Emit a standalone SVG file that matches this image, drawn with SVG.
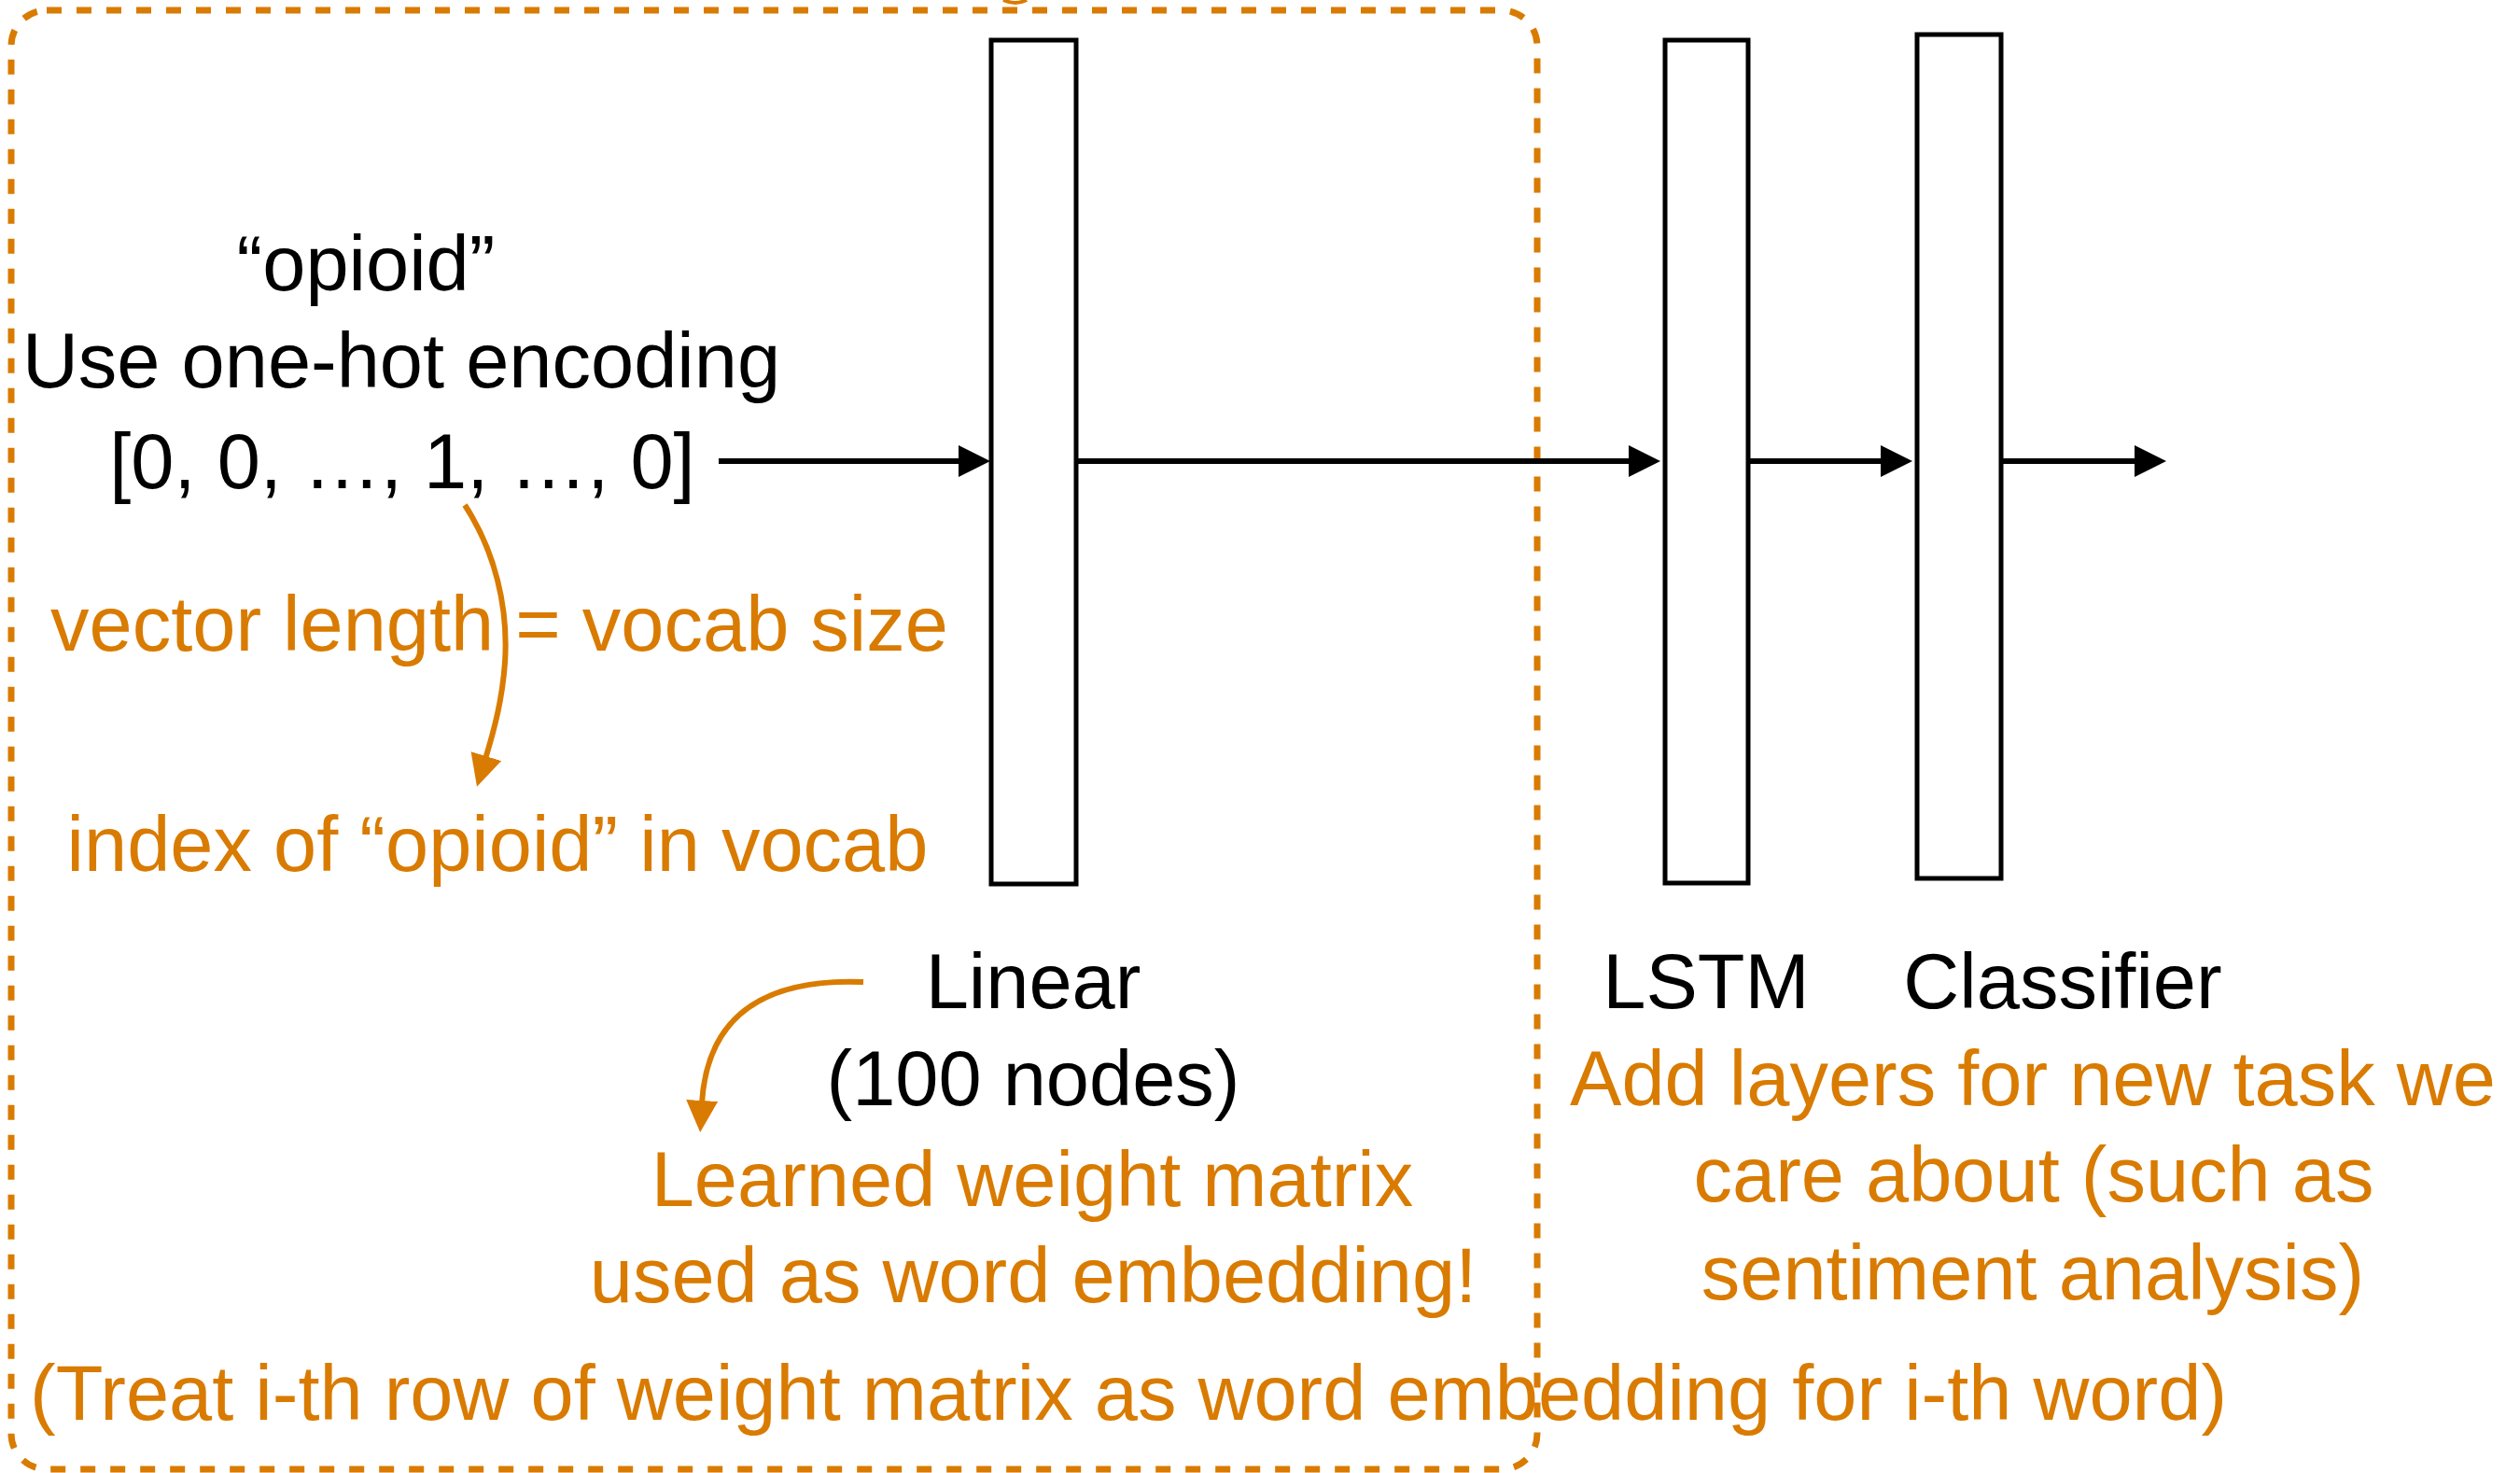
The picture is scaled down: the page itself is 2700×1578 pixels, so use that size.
<svg xmlns="http://www.w3.org/2000/svg" width="2700" height="1578" viewBox="0 0 2700 1578">
  <defs>
    <style>
      .layer { fill: #ffffff; stroke: #000000; stroke-width: 5; }
      .flow { stroke: #000000; stroke-width: 6; fill: none; }
      .note { stroke: #D97B00; stroke-width: 6; fill: none; }
      .lbl { font-family: "Liberation Sans", Arial, sans-serif; font-size: 83px; fill: #000000; }
      .ann { font-family: "Liberation Sans", Arial, sans-serif; font-size: 83px; fill: #D97B00; }
      .mid { text-anchor: middle; }
      .frame { fill: none; stroke: #D97B00; stroke-width: 7; stroke-dasharray: 16 16; }
    </style>
    <marker id="head" markerUnits="userSpaceOnUse" markerWidth="36" markerHeight="36" refX="3" refY="17" orient="auto">
      <path d="M0,0 L34,17 L0,34 z" fill="#000000"/>
    </marker>
    <marker id="headOrange" markerUnits="userSpaceOnUse" markerWidth="36" markerHeight="36" refX="3" refY="17" orient="auto">
      <path d="M0,0 L34,17 L0,34 z" fill="#D97B00"/>
    </marker>
  </defs>

  <rect width="2700" height="1578" fill="#ffffff"/>

  <!-- dashed frame around the embedding part -->
  <g id="embedding-frame">
    <rect class="frame" x="12" y="11" width="1635" height="1563" rx="38" ry="38"/>
    <path d="M1075 0 Q1088 6 1100 0" fill="none" stroke="#D97B00" stroke-width="4"/>
  </g>

  <!-- input word -->
  <g id="input">
    <text class="lbl mid" x="392" y="311">“opioid”</text>
    <text class="lbl mid" x="430" y="415">Use one-hot encoding</text>
    <text class="lbl mid" x="431" y="523">[0, 0, …, 1, …, 0]</text>
  </g>

  <g id="vector-note">
    <text class="ann mid" x="535" y="697">vector length = vocab size</text>
    <text class="ann mid" x="533" y="933">index of “opioid” in vocab</text>
  </g>

  <!-- layers -->
  <g id="linear">
    <rect class="layer" x="1062" y="43" width="91" height="904"/>
    <text class="lbl mid" x="1107" y="1080">Linear</text>
    <text class="lbl mid" x="1107" y="1184">(100 nodes)</text>
  </g>

  <g id="lstm">
    <rect class="layer" x="1784" y="43" width="89" height="903"/>
    <text class="lbl mid" x="1828" y="1080">LSTM</text>
  </g>

  <g id="classifier">
    <rect class="layer" x="2054" y="37" width="90" height="904"/>
    <text class="lbl mid" x="2210" y="1080">Classifier</text>
  </g>

  <g id="embedding-note">
    <text class="ann mid" x="1106" y="1292">Learned weight matrix</text>
    <text class="ann mid" x="1107" y="1395">used as word embedding!</text>
  </g>

  <g id="task-note">
    <text class="ann mid" x="2178" y="1184">Add layers for new task we</text>
    <text class="ann mid" x="2179" y="1287">care about (such as</text>
    <text class="ann mid" x="2178" y="1392">sentiment analysis)</text>
  </g>

  <g id="row-note">
    <text class="ann" x="32" y="1521">(Treat i-th row of weight matrix as word embedding for i-th word)</text>
  </g>

  <!-- connectors -->
  <g id="connectors">
    <line class="flow" x1="770" y1="494" x2="1030" y2="494" marker-end="url(#head)"/>
    <line class="flow" x1="1153" y1="494" x2="1748" y2="494" marker-end="url(#head)"/>
    <line class="flow" x1="1873" y1="494" x2="2018" y2="494" marker-end="url(#head)"/>
    <line class="flow" x1="2144" y1="494" x2="2290" y2="494" marker-end="url(#head)"/>
    <path class="note" d="M498 541 C530 590 545 650 541 710 C538 750 530 780 520 813" marker-end="url(#headOrange)"/>
    <path class="note" stroke-width="7" d="M925 1052 C830 1048 758 1080 752 1182" marker-end="url(#headOrange)"/>
  </g>
</svg>
